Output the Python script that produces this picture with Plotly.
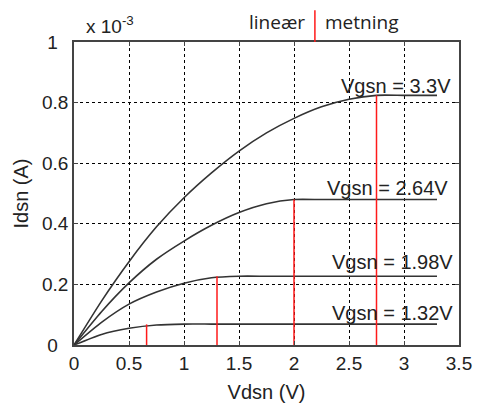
import plotly.graph_objects as go

# Vds sample points (V)
vds = [0, 0.25, 0.5, 0.75, 1.0, 1.25, 1.5, 1.75, 2.0, 2.25, 2.5, 2.75, 3.0, 3.3]

# Ids (x 1e-3 A) for each Vgsn
ids_330 = [0, 0.145, 0.275, 0.39, 0.486, 0.568, 0.640, 0.700, 0.748, 0.786, 0.811, 0.824, 0.824, 0.824]
ids_264 = [0, 0.11, 0.205, 0.283, 0.343, 0.395, 0.437, 0.466, 0.48, 0.48, 0.48, 0.48, 0.48, 0.48]
ids_198 = [0, 0.075, 0.135, 0.175, 0.204, 0.222, 0.227, 0.227, 0.227, 0.227, 0.227, 0.227, 0.227, 0.227]
ids_132 = [0, 0.035, 0.055, 0.066, 0.069, 0.069, 0.069, 0.069, 0.069, 0.069, 0.069, 0.069, 0.069, 0.069]

curves = [ids_330, ids_264, ids_198, ids_132]
curve_labels = ["Vgsn = 3.3V", "Vgsn = 2.64V", "Vgsn = 1.98V", "Vgsn = 1.32V"]
label_x = [3.445, 3.42, 3.46, 3.46]
label_y = [0.856, 0.519, 0.275, 0.107]

# saturation boundaries (Vdsat, Idsat)
vdsat = [2.75, 2.0, 1.30, 0.66]
idsat = [0.824, 0.48, 0.227, 0.068]

x_ticks = [0, 0.5, 1, 1.5, 2, 2.5, 3, 3.5]
x_ticktext = ["0", "0.5", "1", "1.5", "2", "2.5", "3", "3.5"]
y_ticks = [0, 0.2, 0.4, 0.6, 0.8, 1]
y_ticktext = ["0\u2007", "0.2", "0.4", "0.6", "0.8", "1\u2007"]

region_split_x = 2.19

fig = go.Figure()

for ys in curves:
    fig.add_trace(go.Scatter(x=vds, y=ys, mode="lines",
                             line=dict(color="#333333", width=1.6, shape="spline", smoothing=0.6),
                             showlegend=False, hoverinfo="skip"))

for vx, iy in zip(vdsat, idsat):
    fig.add_trace(go.Scatter(x=[vx, vx], y=[0, iy], mode="lines", line=dict(color="#ff1a1a", width=1.5),
                             showlegend=False, hoverinfo="skip"))

font_main = "Liberation Sans, Arial, sans-serif"
annotations = []
for t, lx, ly in zip(curve_labels, label_x, label_y):
    annotations.append(dict(x=lx, y=ly, xref="x", yref="y", text=t, showarrow=False, xanchor="right", yanchor="middle",
                            font=dict(family=font_main, size=20, color="#222222")))

annotations.append(dict(x=0.09, y=1.01, xref="x", yref="paper", text="x 10<sup>-3</sup>", showarrow=False,
                        xanchor="left", yanchor="bottom", font=dict(family=font_main, size=19, color="#222222")))
annotations.append(dict(x=region_split_x - 0.07, y=1.066, xref="x", yref="paper", text="lineær", showarrow=False,
                        xanchor="right", yanchor="middle", font=dict(family="Open Sans, sans-serif", size=19, color="#222222")))
annotations.append(dict(x=region_split_x + 0.07, y=1.066, xref="x", yref="paper", text="metning", showarrow=False,
                        xanchor="left", yanchor="middle", font=dict(family="Open Sans, sans-serif", size=19, color="#222222")))

shapes = [dict(type="line", xref="x", yref="paper", x0=region_split_x, x1=region_split_x, y0=1.0, y1=1.105,
               line=dict(color="#ff1a1a", width=1.5))]

axis_common = dict(showline=True, linecolor="#444444", linewidth=1.5, mirror="ticks", ticks="inside", ticklen=4,
                   tickcolor="#444444", showgrid=True, gridcolor="#000000", griddash="dot", gridwidth=1,
                   zeroline=False, automargin=False, tickfont=dict(family=font_main, size=19, color="#222222"))

fig.update_layout(
    width=479, height=408,
    margin=dict(l=74, r=20, t=42, b=63),
    plot_bgcolor="white", paper_bgcolor="white",
    xaxis=dict(range=[0, 3.5], tickvals=x_ticks, ticktext=x_ticktext,
               title=dict(text="Vdsn (V)", font=dict(family=font_main, size=20, color="#222222"), standoff=12),
               **axis_common),
    yaxis=dict(range=[0, 1], tickvals=y_ticks, ticktext=y_ticktext,
               title=dict(text="Idsn (A)", font=dict(family=font_main, size=20, color="#222222"), standoff=8),
               **axis_common),
    annotations=annotations, shapes=shapes,
)

fig.write_html("out.html")
